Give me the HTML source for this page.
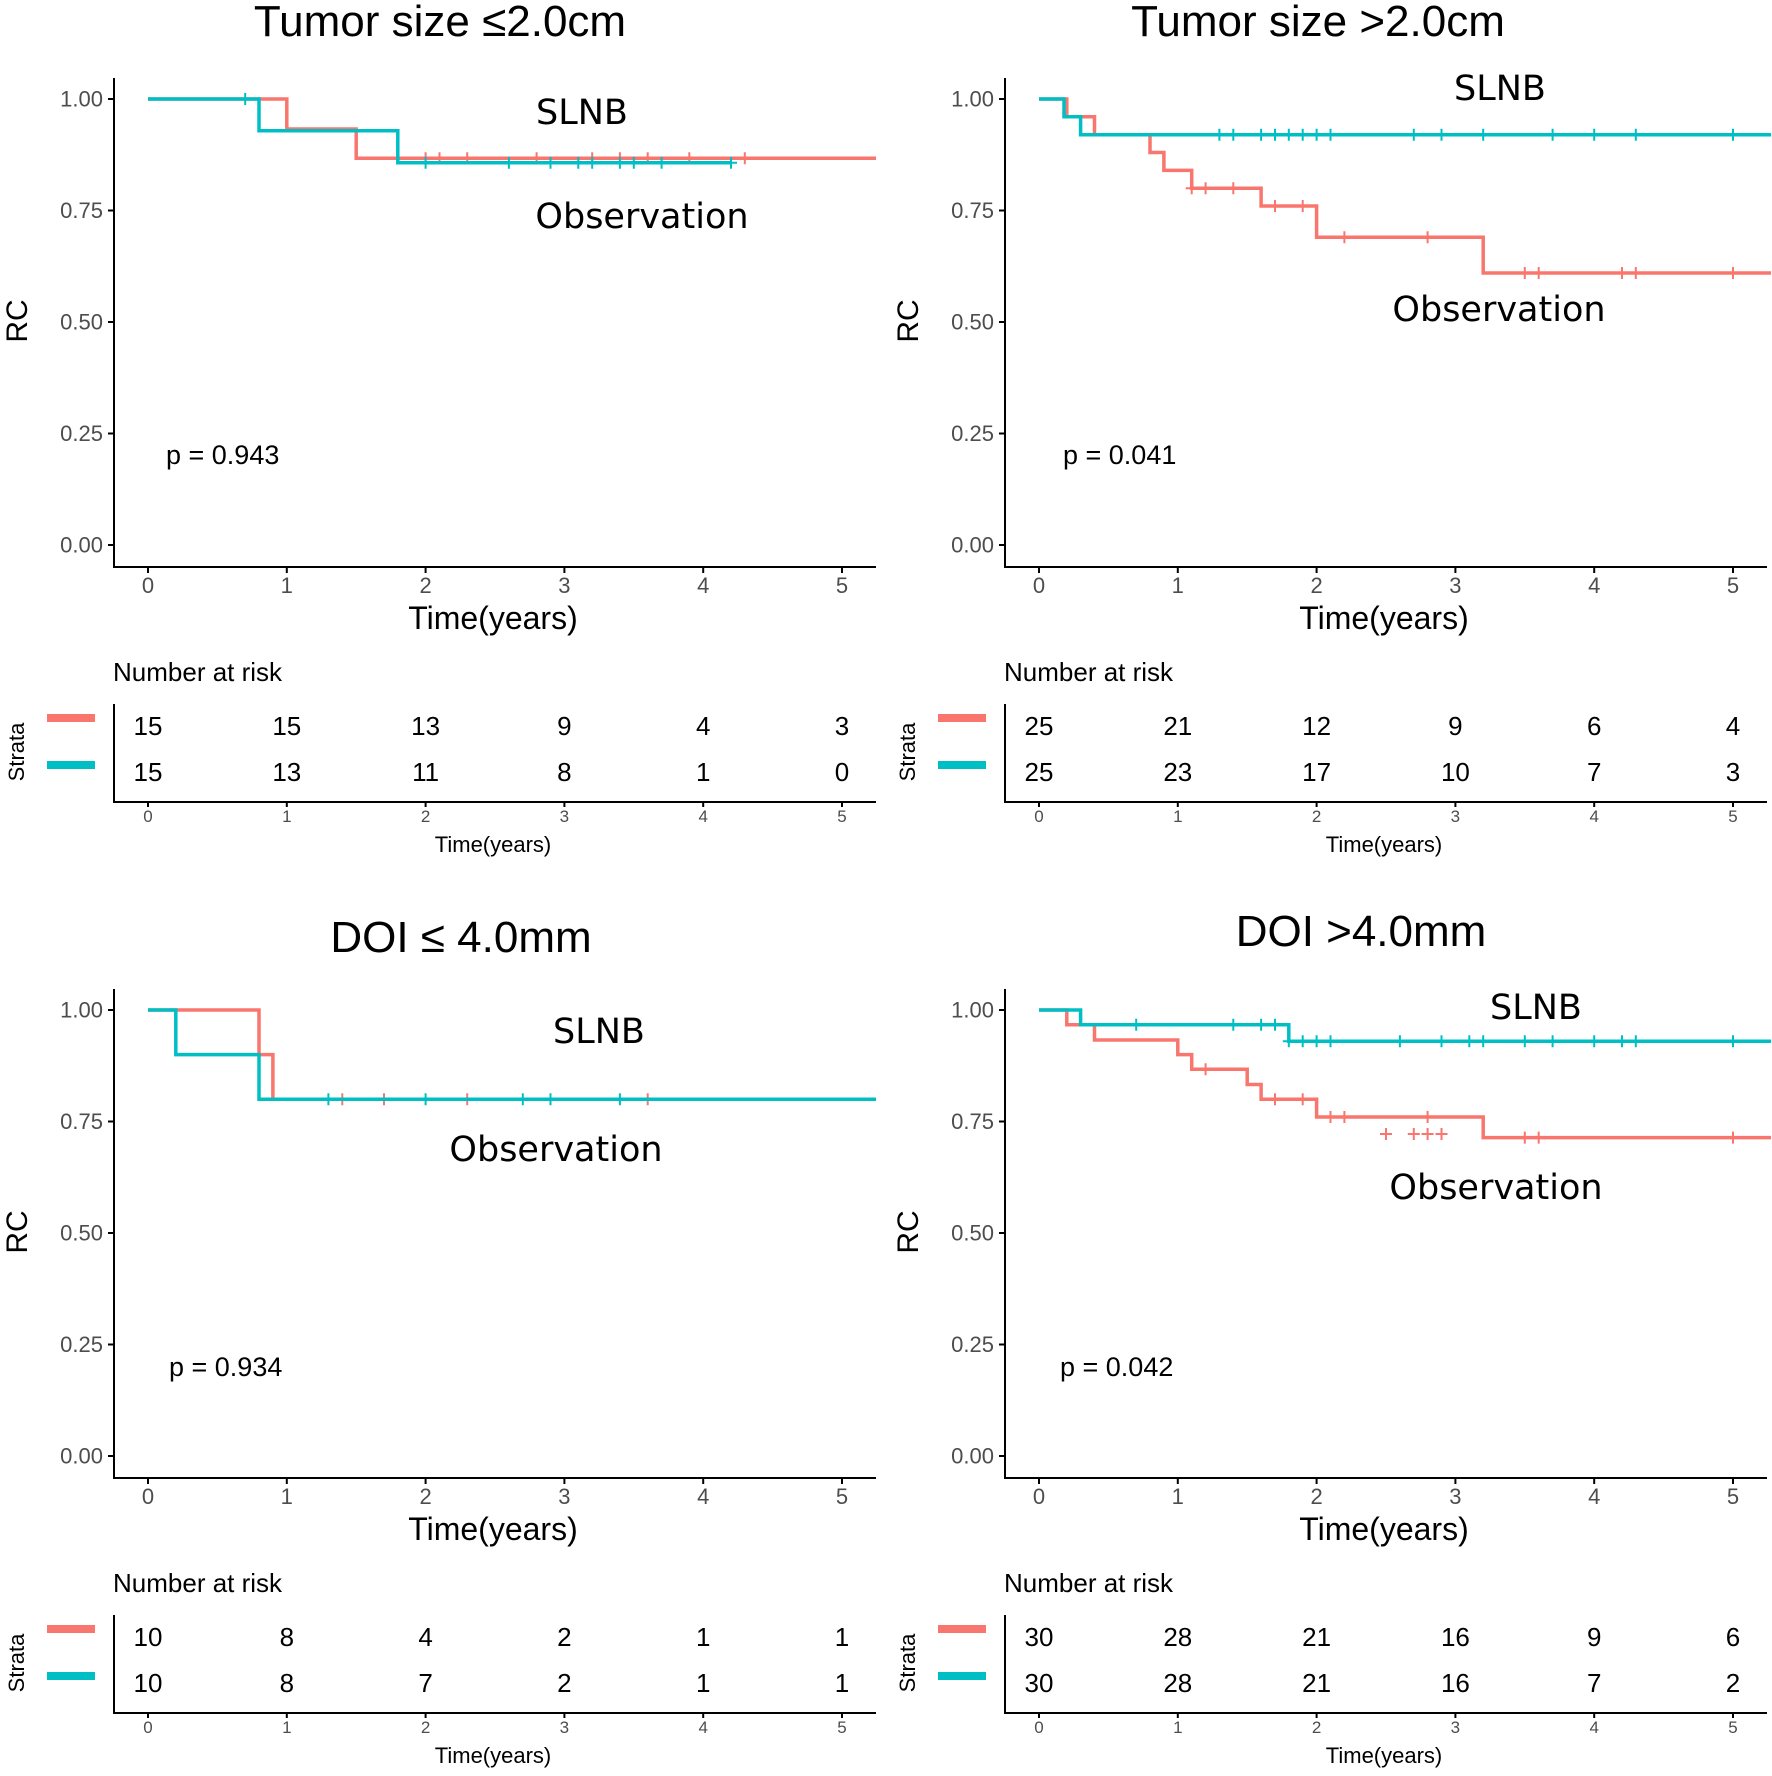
<!DOCTYPE html>
<html><head><meta charset="utf-8"><style>
html,body{margin:0;padding:0;background:#fff}
svg{display:block}
text{font-family:"Liberation Sans",sans-serif}
.tl{font-size:22px;fill:#4d4d4d}
.yl{font-size:22px;fill:#4d4d4d;text-anchor:end;dominant-baseline:central}
.ann{font-family:"DejaVu Sans","Liberation Sans",sans-serif;font-size:35px;fill:#000;text-anchor:middle}
.r{stroke:#F8766D;fill:none;stroke-width:3.5}
.t{stroke:#00BFC4;fill:none;stroke-width:3.5}
.ax{stroke:#000;stroke-width:2;fill:none}
.rk{font-size:26px;text-anchor:middle;fill:#000}
.sm{font-size:17px;fill:#4d4d4d;text-anchor:middle}
</style></head><body>
<svg width="1772" height="1776" viewBox="0 0 1772 1776" xmlns="http://www.w3.org/2000/svg">
<defs>
<path id="pl" d="M-6 0h12M0-6v12" stroke-width="2"/>
<g id="axes">
<path class="ax" d="M114 78V567H876M108 99h6M108 210.5h6M108 322h6M108 433.5h6M108 545h6M148 567v6M286.8 567v6M425.6 567v6M564.4 567v6M703.2 567v6M842 567v6"/>
<path class="ax" d="M114 704V802H876M148 802v5M286.8 802v5M425.6 802v5M564.4 802v5M703.2 802v5M842 802v5"/>
<rect x="47" y="714" width="48" height="8" fill="#F8766D"/>
<rect x="47" y="761" width="48" height="8" fill="#00BFC4"/>
</g>
</defs>

<g id="P1">
<use href="#axes"/>
<text x="440" y="36" font-size="44" text-anchor="middle">Tumor size ≤2.0cm</text>
<text class="yl" x="103" y="99">1.00</text><text class="yl" x="103" y="210.5">0.75</text><text class="yl" x="103" y="322">0.50</text><text class="yl" x="103" y="433.5">0.25</text><text class="yl" x="103" y="545">0.00</text>
<g class="tl" text-anchor="middle"><text x="148" y="593">0</text><text x="286.8" y="593">1</text><text x="425.6" y="593">2</text><text x="564.4" y="593">3</text><text x="703.2" y="593">4</text><text x="842" y="593">5</text></g>
<text x="493" y="629" font-size="32" text-anchor="middle">Time(years)</text>
<text x="27" y="321" font-size="30" text-anchor="middle" transform="rotate(-90 27 321)">RC</text>
<text x="113" y="681" font-size="26">Number at risk</text>
<text x="24" y="752" font-size="22" text-anchor="middle" transform="rotate(-90 24 752)">Strata</text>
<g class="sm"><text x="148" y="822">0</text><text x="286.8" y="822">1</text><text x="425.6" y="822">2</text><text x="564.4" y="822">3</text><text x="703.2" y="822">4</text><text x="842" y="822">5</text></g>
<text x="493" y="852" font-size="22" text-anchor="middle">Time(years)</text>
<g class="rk"><text x="148" y="735">15</text><text x="286.8" y="735">15</text><text x="425.6" y="735">13</text><text x="564.4" y="735">9</text><text x="703.2" y="735">4</text><text x="842" y="735">3</text>
<text x="148" y="781">15</text><text x="286.8" y="781">13</text><text x="425.6" y="781">11</text><text x="564.4" y="781">8</text><text x="703.2" y="781">1</text><text x="842" y="781">0</text></g>
<path class="r" d="M148 99H286.8V129H356.2V158.3H876"/>
<g stroke="#F8766D"><use href="#pl" x="425.6" y="158.3"/><use href="#pl" x="439.5" y="158.3"/><use href="#pl" x="467.2" y="158.3"/><use href="#pl" x="536.6" y="158.3"/><use href="#pl" x="592.2" y="158.3"/><use href="#pl" x="619.9" y="158.3"/><use href="#pl" x="647.7" y="158.3"/><use href="#pl" x="689.3" y="158.3"/><use href="#pl" x="744.8" y="158.3"/></g>
<path class="t" d="M148 99H259V130.7H397.8V162.8H731"/>
<g stroke="#00BFC4"><use href="#pl" x="245.2" y="99"/><use href="#pl" x="425.6" y="162.8"/><use href="#pl" x="508.9" y="162.8"/><use href="#pl" x="550.5" y="162.8"/><use href="#pl" x="578.3" y="162.8"/><use href="#pl" x="592.2" y="162.8"/><use href="#pl" x="619.9" y="162.8"/><use href="#pl" x="633.8" y="162.8"/><use href="#pl" x="661.6" y="162.8"/><use href="#pl" x="731" y="162.8"/></g>
<text class="ann" x="582" y="124">SLNB</text>
<text class="ann" x="642" y="228">Observation</text>
<text x="166" y="464" font-size="27">p = 0.943</text>
</g>

<g transform="translate(891,0)">
<use href="#axes"/>
<text x="427" y="36" font-size="44" text-anchor="middle">Tumor size &gt;2.0cm</text>
<text class="yl" x="103" y="99">1.00</text><text class="yl" x="103" y="210.5">0.75</text><text class="yl" x="103" y="322">0.50</text><text class="yl" x="103" y="433.5">0.25</text><text class="yl" x="103" y="545">0.00</text>
<g class="tl" text-anchor="middle"><text x="148" y="593">0</text><text x="286.8" y="593">1</text><text x="425.6" y="593">2</text><text x="564.4" y="593">3</text><text x="703.2" y="593">4</text><text x="842" y="593">5</text></g>
<text x="493" y="629" font-size="32" text-anchor="middle">Time(years)</text>
<text x="27" y="321" font-size="30" text-anchor="middle" transform="rotate(-90 27 321)">RC</text>
<text x="113" y="681" font-size="26">Number at risk</text>
<text x="24" y="752" font-size="22" text-anchor="middle" transform="rotate(-90 24 752)">Strata</text>
<g class="sm"><text x="148" y="822">0</text><text x="286.8" y="822">1</text><text x="425.6" y="822">2</text><text x="564.4" y="822">3</text><text x="703.2" y="822">4</text><text x="842" y="822">5</text></g>
<text x="493" y="852" font-size="22" text-anchor="middle">Time(years)</text>
<g class="rk"><text x="148" y="735">25</text><text x="286.8" y="735">21</text><text x="425.6" y="735">12</text><text x="564.4" y="735">9</text><text x="703.2" y="735">6</text><text x="842" y="735">4</text>
<text x="148" y="781">25</text><text x="286.8" y="781">23</text><text x="425.6" y="781">17</text><text x="564.4" y="781">10</text><text x="703.2" y="781">7</text><text x="842" y="781">3</text></g>
<path class="r" d="M148 99H175.8V116.8H203.5V134.7H259V152.5H272.9V170.4H300.7V188.2H370.1V206H425.6V237.3H592.2V273H880"/>
<g stroke="#F8766D"><use href="#pl" x="300.7" y="188.2"/><use href="#pl" x="314.6" y="188.2"/><use href="#pl" x="342.3" y="188.2"/><use href="#pl" x="384" y="206"/><use href="#pl" x="411.7" y="206"/><use href="#pl" x="453.4" y="237.3"/><use href="#pl" x="536.6" y="237.3"/><use href="#pl" x="633.8" y="273"/><use href="#pl" x="647.7" y="273"/><use href="#pl" x="731" y="273"/><use href="#pl" x="744.8" y="273"/><use href="#pl" x="842" y="273"/></g>
<path class="t" d="M148 99H173V116.8H189.6V134.7H880"/>
<g stroke="#00BFC4"><use href="#pl" x="328.4" y="134.7"/><use href="#pl" x="342.3" y="134.7"/><use href="#pl" x="370.1" y="134.7"/><use href="#pl" x="384" y="134.7"/><use href="#pl" x="397.8" y="134.7"/><use href="#pl" x="411.7" y="134.7"/><use href="#pl" x="425.6" y="134.7"/><use href="#pl" x="439.5" y="134.7"/><use href="#pl" x="522.8" y="134.7"/><use href="#pl" x="550.5" y="134.7"/><use href="#pl" x="592.2" y="134.7"/><use href="#pl" x="661.6" y="134.7"/><use href="#pl" x="703.2" y="134.7"/><use href="#pl" x="744.8" y="134.7"/><use href="#pl" x="842" y="134.7"/></g>
<text class="ann" x="609" y="100">SLNB</text>
<text class="ann" x="608" y="321">Observation</text>
<text x="172" y="464" font-size="27">p = 0.041</text>
</g>

<g transform="translate(0,911)">
<use href="#axes"/>
<text x="461" y="41" font-size="44" text-anchor="middle">DOI ≤ 4.0mm</text>
<text class="yl" x="103" y="99">1.00</text><text class="yl" x="103" y="210.5">0.75</text><text class="yl" x="103" y="322">0.50</text><text class="yl" x="103" y="433.5">0.25</text><text class="yl" x="103" y="545">0.00</text>
<g class="tl" text-anchor="middle"><text x="148" y="593">0</text><text x="286.8" y="593">1</text><text x="425.6" y="593">2</text><text x="564.4" y="593">3</text><text x="703.2" y="593">4</text><text x="842" y="593">5</text></g>
<text x="493" y="629" font-size="32" text-anchor="middle">Time(years)</text>
<text x="27" y="321" font-size="30" text-anchor="middle" transform="rotate(-90 27 321)">RC</text>
<text x="113" y="681" font-size="26">Number at risk</text>
<text x="24" y="752" font-size="22" text-anchor="middle" transform="rotate(-90 24 752)">Strata</text>
<g class="sm"><text x="148" y="822">0</text><text x="286.8" y="822">1</text><text x="425.6" y="822">2</text><text x="564.4" y="822">3</text><text x="703.2" y="822">4</text><text x="842" y="822">5</text></g>
<text x="493" y="852" font-size="22" text-anchor="middle">Time(years)</text>
<g class="rk"><text x="148" y="735">10</text><text x="286.8" y="735">8</text><text x="425.6" y="735">4</text><text x="564.4" y="735">2</text><text x="703.2" y="735">1</text><text x="842" y="735">1</text>
<text x="148" y="781">10</text><text x="286.8" y="781">8</text><text x="425.6" y="781">7</text><text x="564.4" y="781">2</text><text x="703.2" y="781">1</text><text x="842" y="781">1</text></g>
<path class="r" d="M148 99H259V143.6H272.9V188.2H876"/>
<g stroke="#F8766D"><use href="#pl" x="342.3" y="188.2"/><use href="#pl" x="384" y="188.2"/><use href="#pl" x="467.2" y="188.2"/><use href="#pl" x="647.7" y="188.2"/></g>
<path class="t" d="M148 99H175.8V143.6H259V188.2H876"/>
<g stroke="#00BFC4"><use href="#pl" x="328.4" y="188.2"/><use href="#pl" x="425.6" y="188.2"/><use href="#pl" x="522.8" y="188.2"/><use href="#pl" x="550.5" y="188.2"/><use href="#pl" x="619.9" y="188.2"/></g>
<text class="ann" x="599" y="132">SLNB</text>
<text class="ann" x="556" y="250">Observation</text>
<text x="169" y="465" font-size="27">p = 0.934</text>
</g>

<g transform="translate(891,911)">
<use href="#axes"/>
<text x="470" y="35" font-size="44" text-anchor="middle">DOI &gt;4.0mm</text>
<text class="yl" x="103" y="99">1.00</text><text class="yl" x="103" y="210.5">0.75</text><text class="yl" x="103" y="322">0.50</text><text class="yl" x="103" y="433.5">0.25</text><text class="yl" x="103" y="545">0.00</text>
<g class="tl" text-anchor="middle"><text x="148" y="593">0</text><text x="286.8" y="593">1</text><text x="425.6" y="593">2</text><text x="564.4" y="593">3</text><text x="703.2" y="593">4</text><text x="842" y="593">5</text></g>
<text x="493" y="629" font-size="32" text-anchor="middle">Time(years)</text>
<text x="27" y="321" font-size="30" text-anchor="middle" transform="rotate(-90 27 321)">RC</text>
<text x="113" y="681" font-size="26">Number at risk</text>
<text x="24" y="752" font-size="22" text-anchor="middle" transform="rotate(-90 24 752)">Strata</text>
<g class="sm"><text x="148" y="822">0</text><text x="286.8" y="822">1</text><text x="425.6" y="822">2</text><text x="564.4" y="822">3</text><text x="703.2" y="822">4</text><text x="842" y="822">5</text></g>
<text x="493" y="852" font-size="22" text-anchor="middle">Time(years)</text>
<g class="rk"><text x="148" y="735">30</text><text x="286.8" y="735">28</text><text x="425.6" y="735">21</text><text x="564.4" y="735">16</text><text x="703.2" y="735">9</text><text x="842" y="735">6</text>
<text x="148" y="781">30</text><text x="286.8" y="781">28</text><text x="425.6" y="781">21</text><text x="564.4" y="781">16</text><text x="703.2" y="781">7</text><text x="842" y="781">2</text></g>
<path class="r" d="M148 99H175.8V113.7H203.5V129H286.8V143.6H300.7V158.3H356.2V173.5H370.1V188.2H425.6V206H592.2V226.6H880"/>
<g stroke="#F8766D"><use href="#pl" x="314.6" y="158.3"/><use href="#pl" x="384" y="188.2"/><use href="#pl" x="411.7" y="188.2"/><use href="#pl" x="439.5" y="206"/><use href="#pl" x="453.4" y="206"/><use href="#pl" x="536.6" y="206"/><use href="#pl" x="633.8" y="226.6"/><use href="#pl" x="647.7" y="226.6"/><use href="#pl" x="842" y="226.6"/><use href="#pl" x="495" y="223"/><use href="#pl" x="522.8" y="223"/><use href="#pl" x="536.6" y="223"/><use href="#pl" x="550.5" y="223"/></g>
<path class="t" d="M148 99H189.6V113.7H397.8V130.2H880"/>
<g stroke="#00BFC4"><use href="#pl" x="245.2" y="113.7"/><use href="#pl" x="342.3" y="113.7"/><use href="#pl" x="370.1" y="113.7"/><use href="#pl" x="384" y="113.7"/><use href="#pl" x="397.8" y="130.2"/><use href="#pl" x="411.7" y="130.2"/><use href="#pl" x="425.6" y="130.2"/><use href="#pl" x="439.5" y="130.2"/><use href="#pl" x="508.9" y="130.2"/><use href="#pl" x="550.5" y="130.2"/><use href="#pl" x="578.3" y="130.2"/><use href="#pl" x="592.2" y="130.2"/><use href="#pl" x="633.8" y="130.2"/><use href="#pl" x="661.6" y="130.2"/><use href="#pl" x="703.2" y="130.2"/><use href="#pl" x="731" y="130.2"/><use href="#pl" x="744.8" y="130.2"/><use href="#pl" x="842" y="130.2"/></g>
<text class="ann" x="645" y="108">SLNB</text>
<text class="ann" x="605" y="288">Observation</text>
<text x="169" y="465" font-size="27">p = 0.042</text>
</g>
</svg>
</body></html>
